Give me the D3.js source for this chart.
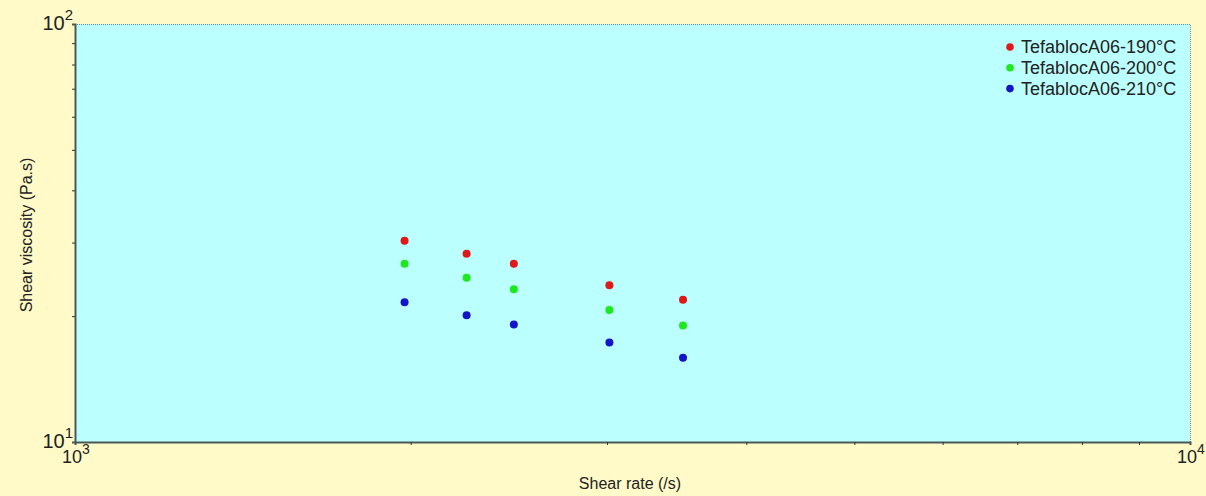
<!DOCTYPE html>
<html>
<head>
<meta charset="utf-8">
<script src="https://cdnjs.cloudflare.com/ajax/libs/d3/7.8.5/d3.min.js"></script>
<style>
    body { margin: 0; background: #fffac8; }
    text { font-family: "Liberation Sans", Arial, sans-serif; fill: #222; }
</style>
</head>
<body>
<script>
var seriesNames = ['TefablocA06-190°C', 'TefablocA06-200°C', 'TefablocA06-210°C'];
var seriesColors = ['#e01818', '#1ee81e', '#1414c8'];
var shearRates = [1975, 2245, 2475, 3015, 3510];
var visc190 = [30.3, 28.2, 26.7, 23.7, 21.9];
var visc200 = [26.7, 24.7, 23.2, 20.7, 19.0];
var visc210 = [21.6, 20.1, 19.1, 17.3, 15.9];
var xTickExp = [3, 4];
var yTickExp = [1, 2];

window.document.addEventListener('DOMContentLoaded', init, false);

function init() {
    var width = 1206, height = 496;
    var plot = {left: 75, top: 24, right: 1190, bottom: 442};

    var svg = d3.select('body').append('svg')
        .attr('width', width)
        .attr('height', height);

    svg.append('rect')
        .attr('width', width).attr('height', height)
        .attr('fill', '#fffac8');

    var x = d3.scaleLog().domain([1e3, 1e4]).range([plot.left, plot.right]);
    var y = d3.scaleLog().domain([10, 100]).range([plot.bottom, plot.top]);

    svg.append('rect')
        .attr('x', plot.left).attr('y', plot.top)
        .attr('width', plot.right - plot.left)
        .attr('height', plot.bottom - plot.top)
        .attr('fill', '#bcffff');

    // dotted top and right border
    svg.append('path')
        .attr('d', `M${plot.left},${plot.top + 0.5}H${plot.right + 0.5}V${plot.bottom}`)
        .attr('fill', 'none')
        .attr('stroke', '#7a8a8a')
        .attr('stroke-dasharray', '1,1');

    drawAxes(svg, x, y, plot);
    drawPoints(svg, x, y);
    drawLegend(svg);

    svg.append('text')
        .attr('x', 630).attr('y', 489)
        .attr('text-anchor', 'middle')
        .attr('font-size', 16)
        .text('Shear rate (/s)');

    svg.append('text')
        .attr('transform', 'translate(32,235) rotate(-90)')
        .attr('text-anchor', 'middle')
        .attr('font-size', 16)
        .text('Shear viscosity (Pa.s)');
}

function drawAxes(svg, x, y, plot) {
    var minorX = x.ticks().filter((d) => d !== 1000 && d !== 10000);
    var minorY = y.ticks().filter((d) => d !== 10 && d !== 100);

    var xAxis = d3.axisBottom(x).tickValues(minorX).tickSize(3).tickFormat('');
    var yAxis = d3.axisLeft(y).tickValues(minorY).tickSize(3).tickFormat('');

    var gx = svg.append('g').attr('transform', `translate(0,${plot.bottom})`).call(xAxis);
    var gy = svg.append('g').attr('transform', `translate(${plot.left},0)`).call(yAxis);

    [gx, gy].forEach((g) => {
        g.select('.domain').attr('stroke', '#4a5858').attr('stroke-width', 2);
        g.selectAll('.tick line').attr('stroke', '#333');
    });

    xTickExp.forEach((e) => {
        var t = svg.append('text')
            .attr('x', x(Math.pow(10, e)) - 13)
            .attr('y', plot.bottom + 21)
            .attr('text-anchor', 'start')
            .attr('font-size', 18)
            .text('10');
        t.append('tspan').attr('dy', -9).attr('font-size', 14).text(e);
    });

    yTickExp.forEach((e) => {
        var t = svg.append('text')
            .attr('x', plot.left - 2)
            .attr('y', y(Math.pow(10, e)) + 6)
            .attr('text-anchor', 'end')
            .attr('font-size', 20)
            .text('10');
        t.append('tspan').attr('dy', -10).attr('font-size', 15).text(e);
    });
}

function drawPoints(svg, x, y) {
    var series = [visc190, visc200, visc210];
    series.forEach((vals, i) => {
        svg.append('g').selectAll('circle')
            .data(vals)
            .enter()
                .append('circle')
                .attr('cx', (d, j) => x(shearRates[j]))
                .attr('cy', (d) => y(d))
                .attr('r', 4)
                .attr('fill', seriesColors[i]);
    });
}

function drawLegend(svg) {
    var legend = svg.append('g').attr('transform', 'translate(1010,47)');
    var row = legend.selectAll('.row')
        .data(seriesNames)
        .enter()
            .append('g')
            .attr('class', 'row')
            .attr('transform', (d, i) => `translate(0,${i * 20.8})`);

    row.append('circle')
        .attr('r', 3.8)
        .attr('fill', (d, i) => seriesColors[i]);

    row.append('text')
        .attr('x', 11)
        .attr('dy', '.35em')
        .attr('font-size', 18)
        .text((d) => d);
}
</script>
</body>
</html>
